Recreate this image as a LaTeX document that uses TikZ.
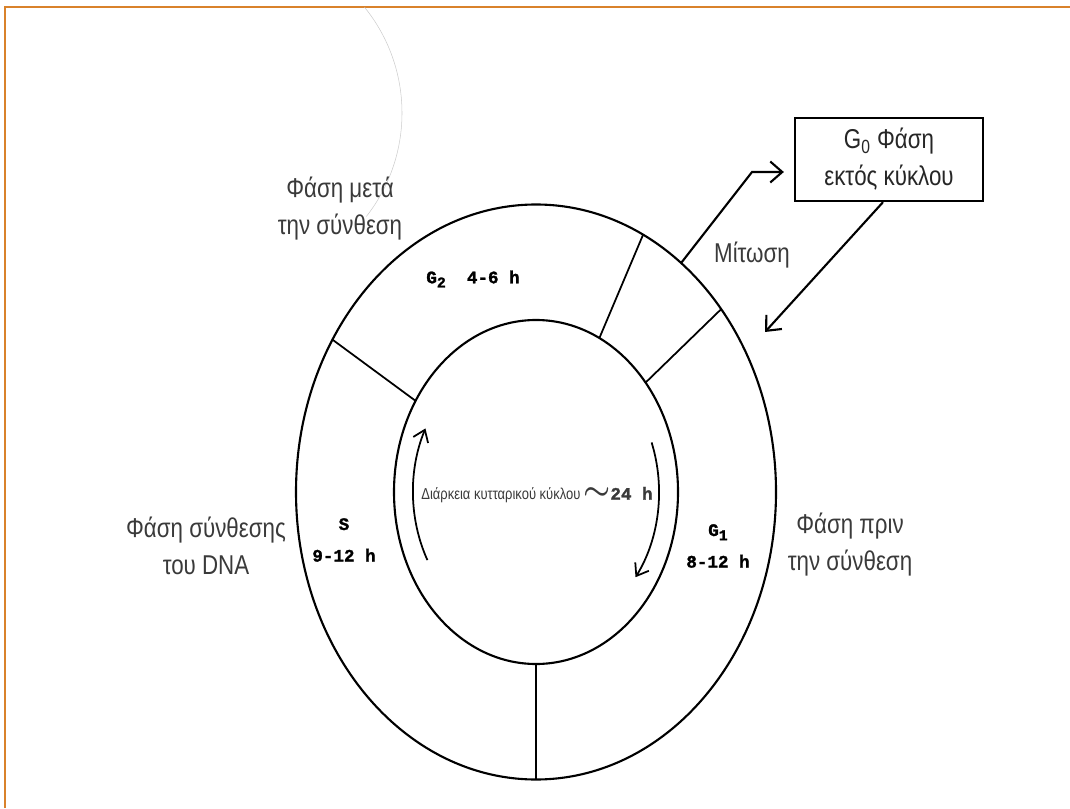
\documentclass[tikz,border=0pt]{standalone}
\usepackage{amsmath}
\usepackage{fontspec}
\usepackage{tikz}
\usetikzlibrary{positioning, calc, arrows.meta}
\newfontfamily\phasefont{Liberation Sans}[FakeStretch=0.82]
\newfontfamily\hoursfont{Liberation Mono}[FakeBold=1.5]
\newcommand{\lowidx}[1]{\raisebox{-0.45ex}{\fontsize{8.5}{8.5}\selectfont #1}}
\definecolor{FrameOrange}{HTML}{D9822B}
\definecolor{LabelGrey}{HTML}{3A3A3A}
\tikzset{
  phase/.style={font=\phasefont\fontsize{15.5}{21}\selectfont, text=LabelGrey, align=center, inner sep=0pt},
  hours/.style={font=\hoursfont\bfseries\fontsize{10}{18}\selectfont, align=center, inner sep=0pt},
  ring/.style={line width=1.2pt},
  divider/.style={line width=1pt},
  flow/.style={line width=1.2pt, -{Straight Barb[length=2.4mm, width=4.2mm]}},
  turn/.style={line width=1pt, -{Straight Barb[length=2.2mm, width=3.2mm]}}
}

\begin{document}
\begin{tikzpicture}
  \useasboundingbox (0,0) rectangle (21.4,16.16);

  % Frame
  \draw[FrameOrange, line width=1.2pt] (0.1,0) -- (0.1,16.02) -- (21.4,16.02);

  % Faint arc, upper left
  \draw[gray!40, line width=0.3pt] (4.68,13.9) ++(39:3.36) arc[start angle=39, end angle=-38, radius=3.36];

  % Rings
  \coordinate (c) at (10.72,6.32);
  \draw[ring] (c) ellipse [x radius=4.8, y radius=5.75];
  \draw[ring] (c) ellipse [x radius=2.84, y radius=3.44];

  % Phase borders
  \foreach \a in {148, 63.5, 39.5, 270} {
    \draw[divider] ($(c)+(\a:2.84cm and 3.44cm)$) -- ($(c)+(\a:4.8cm and 5.75cm)$);
  }

  % G0 box
  \node[phase, draw, text=black!85, line width=1.3pt, minimum width=3.76cm, minimum height=1.66cm] (g0) at (17.78,12.97) {G\textsubscript{0} Φάση\\εκτός κύκλου};

  % Out of the cycle and back
  \coordinate (mstart) at ($(c)+(52.8:4.8cm and 5.75cm)$);
  \coordinate (mbend) at (15.04,12.72);
  \draw[flow, shorten >=2mm] (mstart) -- (mbend) -- (mbend -| g0.west);
  \coordinate (g1in) at (15.3,9.52);
  \draw[flow] ([xshift=-1.2mm]g0.south) -- (g1in);

  % Outside labels
  \node[phase] (post) at (6.8,11.98) {Φάση μετά\\την σύνθεση};
  \node[phase] (synth) at (4.12,5.24) {Φάση σύνθεσης\\του DNA};
  \node[phase] (pre) at (17.0,5.26) {Φάση πριν\\την σύνθεση};
  \node[phase] (mit) at (15.04,11.06) {Μίτωση};

  % Durations
  \node[hours] (g2) at (9.46,10.58) {G\lowidx{2}\ \ 4-6 h};
  \node[hours] (s) at (6.88,5.36) {S\\9-12 h};
  \node[hours] (g1) at (14.36,5.24) {G\lowidx{1}\\8-12 h};

  % Centre
  \node[inner sep=0pt, text=LabelGrey] (dur) at (10.74,6.26) {{\phasefont\fontsize{9}{10}\selectfont Διάρκεια κυτταρικού κύκλου}\,{\fontsize{16}{16}\selectfont$\boldsymbol{\sim}$}{\hoursfont\bfseries\fontsize{10}{10}\selectfont 24 h}};
  \draw[turn] ($(c)+(208:2.46cm and 2.9cm)$) arc[start angle=208, end angle=154, x radius=2.46, y radius=2.9];
  \draw[turn] ($(c)+(20:2.46cm and 2.9cm)$) arc[start angle=20, end angle=-36, x radius=2.46, y radius=2.9];
\end{tikzpicture}
\end{document}
